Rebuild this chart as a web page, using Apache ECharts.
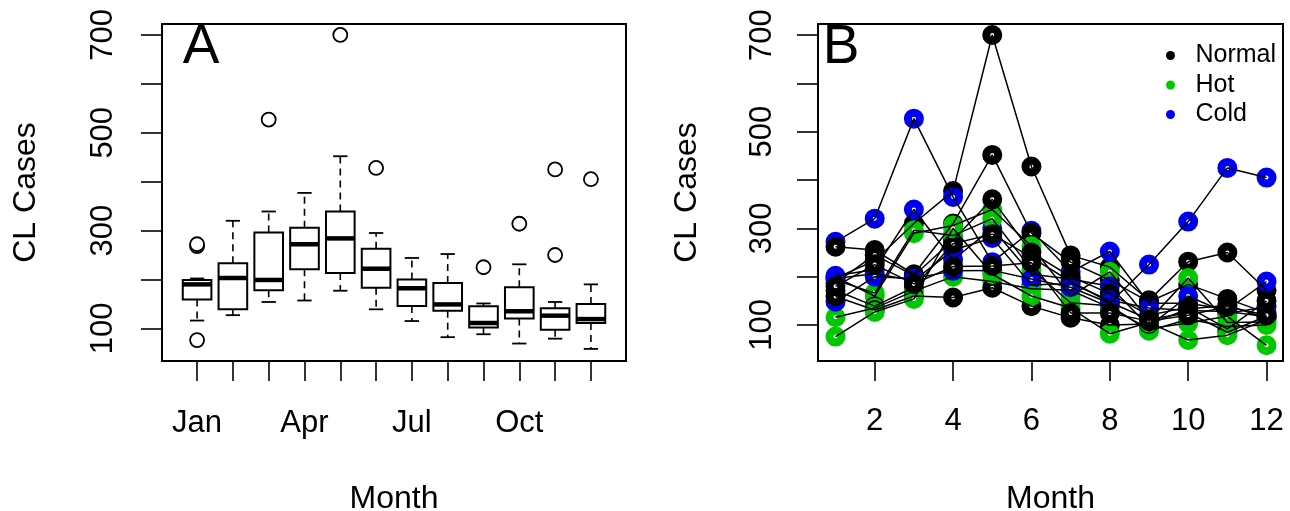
<!DOCTYPE html>
<html>
<head>
<meta charset="utf-8">
<script src="https://cdn.jsdelivr.net/npm/echarts@6/dist/echarts.min.js"></script>
<style>
  html, body { margin: 0; padding: 0; background: #fff; }
  #chart { width: 1290px; height: 511px; }
</style>
</head>
<body>
<div id="chart"></div>
<script>
// panel A: monthly box stats
var months = ['Jan', 'Feb', 'Mar', 'Apr', 'May', 'Jun', 'Jul', 'Aug', 'Sep', 'Oct', 'Nov', 'Dec'];
var boxMin = [116, 127, 154, 157, 177, 139, 115, 82, 88, 69, 79, 58];
var boxQ1 = [159, 139, 178, 221, 213, 183, 146, 136, 102, 120, 97, 111];
var boxMed = [190, 203, 199, 272, 284, 222, 182, 149, 111, 135, 126, 119];
var boxQ3 = [199, 233, 296, 306, 339, 263, 200, 193, 145, 184, 141, 150];
var boxMax = [202, 320, 339, 377, 452, 295, 244, 252, 151, 231, 154, 190];
var outlierMonth = [1, 1, 1, 3, 5, 6, 9, 10, 11, 11, 12];
var outlierValue = [268, 272, 76, 527, 700, 428, 225, 314, 425, 250, 405];

// panel B: one row per year (month 1..12), with its year type
var yearType = ['Normal', 'Cold', 'Normal', 'Hot', 'Cold', 'Normal', 'Hot', 'Cold', 'Normal', 'Hot', 'Cold', 'Normal', 'Hot', 'Normal'];
var yearCases = [
    [197, 233, 310, 377, 700, 428, 244, 220, 151, 231, 250, 172],
    [272, 320, 527, 365, 230, 295, 210, 252, 145, 145, 132, 190],
    [262, 255, 205, 310, 452, 290, 230, 193, 148, 184, 154, 125],
    [199, 160, 290, 306, 339, 263, 160, 210, 110, 197, 105, 106],
    [202, 215, 339, 235, 300, 205, 195, 180, 97, 160, 124, 138],
    [187, 245, 202, 276, 360, 250, 200, 165, 120, 137, 92, 150],
    [193, 166, 296, 285, 320, 215, 146, 140, 88, 112, 97, 100],
    [196, 206, 192, 255, 280, 183, 186, 151, 135, 130, 128, 117],
    [172, 139, 178, 268, 288, 240, 190, 147, 112, 125, 85, 118],
    [116, 135, 170, 200, 190, 175, 172, 136, 92, 104, 118, 58],
    [148, 200, 196, 212, 213, 195, 178, 145, 225, 314, 425, 405],
    [159, 131, 160, 157, 177, 139, 115, 100, 102, 133, 141, 114],
    [76, 127, 154, 300, 205, 160, 135, 82, 105, 69, 79, 111],
    [180, 225, 185, 221, 222, 229, 125, 125, 108, 120, 138, 120]
];
var typeNames = ['Normal', 'Hot', 'Cold'];
var typeColors = {Normal: '#000000', Hot: '#00c800', Cold: '#0000f0'};

var yTicks = [100, 200, 300, 400, 500, 600, 700];
var yLabels = [100, 300, 500, 700];
var aTicks = [1, 2, 3, 4, 5, 6, 7, 8, 9, 10, 11, 12];
var aLabels = [1, 4, 7, 10];
var bTicks = [2, 4, 6, 8, 10, 12];

var FONT = 'Liberation Sans, Arial, sans-serif';

var myChart = echarts.init(document.getElementById('chart'));

var boxData = [];
for (var i = 0; i < months.length; i++) {
    boxData.push([i + 1, boxMin[i], boxQ1[i], boxMed[i], boxQ3[i], boxMax[i]]);
}
var outlierData = [];
for (var i = 0; i < outlierMonth.length; i++) {
    outlierData.push([outlierMonth[i], outlierValue[i]]);
}

function renderBox(params, api) {
    var x = api.value(0);
    var pMin = api.coord([x, api.value(1)]);
    var pQ1 = api.coord([x, api.value(2)]);
    var pMed = api.coord([x, api.value(3)]);
    var pQ3 = api.coord([x, api.value(4)]);
    var pMax = api.coord([x, api.value(5)]);
    var halfW = api.size([0.4, 0])[0];
    var capW = api.size([0.2, 0])[0];
    var xc = pMed[0];
    var dash = {stroke: '#000', lineWidth: 1.6, lineDash: [7, 5]};
    var solid = {stroke: '#000', lineWidth: 1.8};
    return {
        type: 'group',
        children: [
            {type: 'line', shape: {x1: xc, y1: pQ1[1], x2: xc, y2: pMin[1]}, style: dash},
            {type: 'line', shape: {x1: xc, y1: pQ3[1], x2: xc, y2: pMax[1]}, style: dash},
            {type: 'line', shape: {x1: xc - capW, y1: pMin[1], x2: xc + capW, y2: pMin[1]}, style: solid},
            {type: 'line', shape: {x1: xc - capW, y1: pMax[1], x2: xc + capW, y2: pMax[1]}, style: solid},
            {type: 'rect', shape: {x: xc - halfW, y: pQ3[1], width: halfW * 2, height: pQ1[1] - pQ3[1]},
                style: {fill: '#fff', stroke: '#000', lineWidth: 2}},
            {type: 'line', shape: {x1: xc - halfW, y1: pMed[1], x2: xc + halfW, y2: pMed[1]},
                style: {stroke: '#000', lineWidth: 4.5}}
        ]
    };
}

var series = [
    {
        type: 'custom',
        xAxisIndex: 0,
        yAxisIndex: 0,
        renderItem: renderBox,
        encode: {x: 0, y: [1, 2, 3, 4, 5]},
        data: boxData,
        silent: true
    },
    {
        type: 'scatter',
        xAxisIndex: 0,
        yAxisIndex: 0,
        symbol: 'circle',
        symbolSize: 14,
        itemStyle: {color: '#fff', borderColor: '#000', borderWidth: 1.8, opacity: 1},
        data: outlierData,
        silent: true
    }
];

// points of each year (rings), then the lines on top
for (var k = 0; k < yearCases.length; k++) {
    var pts = [];
    for (var m = 0; m < 12; m++) {
        pts.push([m + 1, yearCases[k][m]]);
    }
    series.push({
        name: yearType[k],
        type: 'scatter',
        xAxisIndex: 1,
        yAxisIndex: 1,
        symbol: 'circle',
        symbolSize: 12,
        itemStyle: {color: '#fff', borderColor: typeColors[yearType[k]], borderWidth: 8, opacity: 1},
        data: pts,
        z: 2,
        silent: true
    });
}
for (var k = 0; k < yearCases.length; k++) {
    var pts = [];
    for (var m = 0; m < 12; m++) {
        pts.push([m + 1, yearCases[k][m]]);
    }
    series.push({
        name: 'year' + k,
        type: 'line',
        xAxisIndex: 1,
        yAxisIndex: 1,
        showSymbol: false,
        lineStyle: {color: '#000', width: 1.5, opacity: 1},
        data: pts,
        z: 3,
        silent: true
    });
}

var legendData = [];
for (var i = 0; i < typeNames.length; i++) {
    legendData.push({name: typeNames[i], icon: 'circle', itemStyle: {color: typeColors[typeNames[i]], borderWidth: 0, opacity: 1}});
}

var option = {
    backgroundColor: '#fff',
    animation: false,
    textStyle: {fontFamily: FONT},
    legend: {
        data: legendData,
        orient: 'vertical',
        left: 1161,
        top: 38,
        itemWidth: 40,
        itemHeight: 9,
        itemGap: 4.5,
        selectedMode: false,
        textStyle: {fontFamily: FONT, fontSize: 25, lineHeight: 24, color: '#000'}
    },
    grid: [
        {left: 162, top: 24, width: 464, height: 337, outerBoundsMode: 'none', containLabel: false,
            show: true, borderColor: '#000', borderWidth: 2, backgroundColor: 'transparent'},
        {left: 818, top: 24, width: 465, height: 337, outerBoundsMode: 'none', containLabel: false,
            show: true, borderColor: '#000', borderWidth: 2, backgroundColor: 'transparent'}
    ],
    xAxis: [
        {
            type: 'value', gridIndex: 0, min: 0.02, max: 12.98,
            name: 'Month', nameLocation: 'middle', nameGap: 122,
            nameTextStyle: {fontFamily: FONT, fontSize: 32, color: '#000'},
            axisLine: {show: false},
            axisTick: {show: true, customValues: aTicks, length: 20, lineStyle: {color: '#000', width: 1.6}},
            axisLabel: {
                customValues: aLabels, margin: 47, fontFamily: FONT, fontSize: 31, color: '#000',
                formatter: function (v) { return months[Math.round(v) - 1]; }
            },
            splitLine: {show: false}
        },
        {
            type: 'value', gridIndex: 1, min: 0.553, max: 12.42,
            name: 'Month', nameLocation: 'middle', nameGap: 122,
            nameTextStyle: {fontFamily: FONT, fontSize: 32, color: '#000'},
            axisLine: {show: false},
            axisTick: {show: true, customValues: bTicks, length: 20, lineStyle: {color: '#000', width: 1.6}},
            axisLabel: {customValues: bTicks, margin: 45, fontFamily: FONT, fontSize: 31, color: '#000'},
            splitLine: {show: false}
        }
    ],
    yAxis: [
        {
            type: 'value', gridIndex: 0, min: 33.3, max: 722.4,
            name: 'CL Cases', nameLocation: 'middle', nameGap: 120,
            nameTextStyle: {fontFamily: FONT, fontSize: 32, color: '#000'},
            axisLine: {show: false},
            axisTick: {show: true, customValues: yTicks, length: 21, lineStyle: {color: '#000', width: 1.6}},
            axisLabel: {customValues: yLabels, rotate: 90, margin: 43, fontFamily: FONT, fontSize: 31, color: '#000'},
            splitLine: {show: false}
        },
        {
            type: 'value', gridIndex: 1, min: 25.5, max: 722.8,
            name: 'CL Cases', nameLocation: 'middle', nameGap: 115,
            nameTextStyle: {fontFamily: FONT, fontSize: 32, color: '#000'},
            axisLine: {show: false},
            axisTick: {show: true, customValues: yTicks, length: 21, lineStyle: {color: '#000', width: 1.6}},
            axisLabel: {customValues: yLabels, rotate: 90, margin: 40, fontFamily: FONT, fontSize: 31, color: '#000'},
            splitLine: {show: false}
        }
    ],
    graphic: [
        {type: 'text', x: 201, y: 48, style: {text: 'A', font: '55px ' + FONT, fill: '#000', textAlign: 'center', textVerticalAlign: 'middle'}},
        {type: 'text', x: 841, y: 48, style: {text: 'B', font: '55px ' + FONT, fill: '#000', textAlign: 'center', textVerticalAlign: 'middle'}}
    ],
    series: series
};

myChart.setOption(option);
</script>
</body>
</html>
